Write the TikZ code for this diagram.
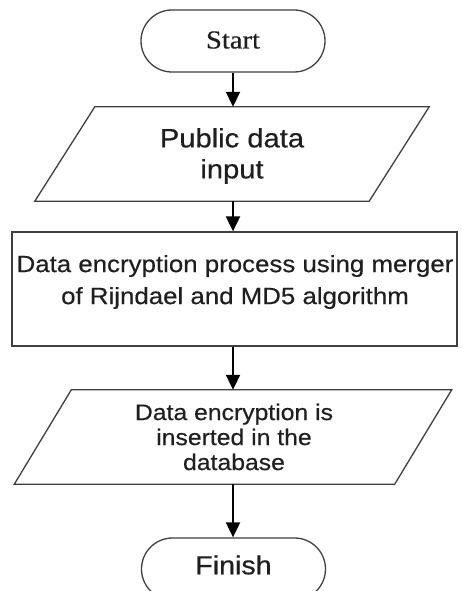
\documentclass[tikz,border=0pt]{standalone}
\usepackage{fontspec}
\setmainfont[FakeStretch=1.1,FakeBold=0.4]{Liberation Sans}
\newfontfamily\serifw[FakeStretch=1.1,FakeBold=0.4]{Liberation Serif}
\usetikzlibrary{shapes.misc,arrows.meta}
\begin{document}
\begin{tikzpicture}[x=1pt,y=-1pt,
  shapeline/.style={draw=black!75,line width=1.3pt},
  term/.style={shapeline,rounded rectangle,minimum width=184pt,minimum height=62pt,inner sep=0pt},
  iobox/.style={minimum height=94pt,inner sep=0pt},
  flow/.style={line width=2pt,draw=black,-{Triangle[length=15pt,width=14pt]}},
  txt/.style={align=center,text=black!88,inner sep=0pt}]
\useasboundingbox (0,0) rectangle (462,591);
\clip (0,0) rectangle (462,591);
\fill[white] (0,0) rectangle (462,591);

% Start
\node[term] (start) at (233,41) {};
\node[txt,font=\serifw\fontsize{26}{30}\selectfont] (starttxt) at (233,40) {Start};

% Public data input
\node[iobox,minimum width=334pt] (in1) at (232,154) {};
\draw[shapeline] ([xshift=30pt]in1.north west) -- ([xshift=30pt]in1.north east)
  -- ([xshift=-30pt]in1.south east) -- ([xshift=-30pt]in1.south west) -- cycle;
\node[txt,font=\fontsize{26.5}{31}\selectfont] (in1txt) at (232,156) {Public data\\input};

% Process
\node[shapeline,minimum width=445pt,minimum height=114pt,inner sep=0pt] (proc) at (234.5,289) {};
\node[txt,font=\fontsize{23.5}{32}\selectfont] (proctxt) at (235,282) {Data encryption process using merger\\of Rijndael and MD5 algorithm};

% Output
\node[iobox,minimum width=380pt] (out) at (233,437) {};
\draw[shapeline] ([xshift=28.5pt]out.north west) -- ([xshift=28.5pt]out.north east)
  -- ([xshift=-28.5pt]out.south east) -- ([xshift=-28.5pt]out.south west) -- cycle;
\node[txt,font=\fontsize{22.5}{25}\selectfont] (outtxt) at (234,437) {Data encryption is\\inserted in the\\database};

% Finish
\node[term] (finish) at (233.5,569) {};
\node[txt,font=\fontsize{26}{30}\selectfont] (fintxt) at (233.5,565) {Finish};

% Connectors
\draw[flow] (start.south) -- (start.south |- in1.north);
\draw[flow] (in1.south -| start.south) -- (start.south |- proc.north);
\draw[flow] (proc.south -| start.south) -- (start.south |- out.north);
\draw[flow] (out.south -| start.south) -- (start.south |- finish.north);
\end{tikzpicture}
\end{document}
